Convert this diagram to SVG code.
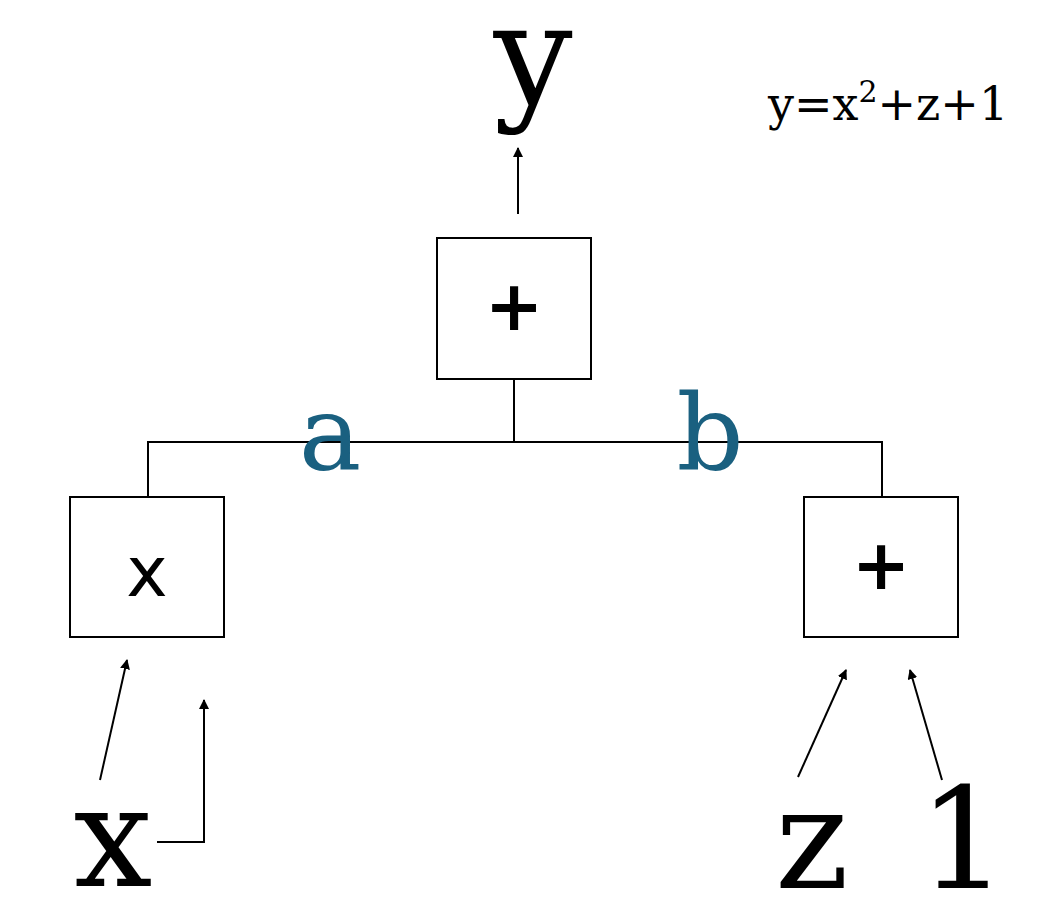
<svg xmlns="http://www.w3.org/2000/svg" width="1060" height="903" viewBox="0 0 1060 903">
<defs><marker id="ah" viewBox="0 0 10 10" refX="9" refY="5" markerWidth="5" markerHeight="5" orient="auto"><path d="M0,0L10,5L0,10z" fill="#000"/></marker></defs>
<style>.box{fill:#fff;stroke:#000;stroke-width:2}.ln{fill:none;stroke:#000;stroke-width:2}.ar{fill:none;stroke:#000;stroke-width:2;marker-end:url(#ah)}.big{font-family:'DejaVu Serif',serif;font-size:140px;text-anchor:middle}.sym{font-family:'DejaVu Sans',sans-serif;font-size:70px;text-anchor:middle}.lab{font-family:'DejaVu Serif',serif;font-size:105px;fill:#1a6080;text-anchor:middle}</style>
<rect width="1060" height="903" fill="#fff"/>
<g id="connectors">
<path class="ln" d="M514,379V442M148,496V442H882V496"/>
<path class="ar" d="M518,214V148"/>
<path class="ar" d="M100,780L127,660"/>
<path class="ar" d="M157,842H204V700"/>
<path class="ar" d="M798,777L846,670"/>
<path class="ar" d="M942,780L910,670"/>
</g>
<g id="top"><rect class="box" x="437" y="238" width="154" height="141"/><text class="sym" x="514" y="330" font-weight="bold">+</text></g>
<g id="sq"><rect class="box" x="70" y="497" width="154" height="140"/><text class="sym" x="147" y="596">x</text></g>
<g id="add"><rect class="box" x="804" y="497" width="154" height="140"/><text class="sym" x="881" y="589" font-weight="bold">+</text></g>
<g id="labels">
<text class="big" x="533" y="104">y</text>
<text x="768" y="120" font-family="DejaVu Serif,serif" font-size="46">y=x<tspan font-size="30" dy="-18">2</tspan><tspan dy="18">+z+1</tspan></text>
<text class="lab" x="330" y="470">a</text>
<text class="lab" x="710" y="470">b</text>
<text class="big" x="113" y="886">x</text>
<text class="big" x="812" y="888">z</text>
<text class="big" x="963" y="888" font-size="128">1</text>
</g>
</svg>
